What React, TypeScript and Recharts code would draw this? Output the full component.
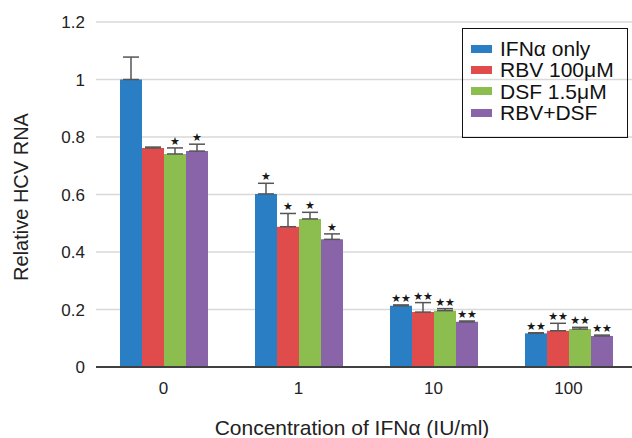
import { BarChart, Bar, XAxis, YAxis, CartesianGrid, ErrorBar, LabelList, Label } from 'recharts';

const categories = ['0', '1', '10', '100'];

const ifnOnly = [1.0, 0.602, 0.213, 0.117];
const rbv100 = [0.762, 0.488, 0.191, 0.126];
const dsf15 = [0.741, 0.515, 0.196, 0.132];
const rbvDsf = [0.751, 0.444, 0.157, 0.108];

const ifnOnlyErr = [0.078, 0.037, 0.003, 0.002];
const rbv100Err = [0.003, 0.046, 0.033, 0.026];
const dsf15Err = [0.021, 0.023, 0.007, 0.006];
const rbvDsfErr = [0.024, 0.019, 0.003, 0.003];

const ifnOnlyStars = ['', '*', '**', '**'];
const rbv100Stars = ['', '*', '**', '**'];
const dsf15Stars = ['*', '*', '**', '**'];
const rbvDsfStars = ['*', '*', '**', '**'];

const yTicks = [0, 0.2, 0.4, 0.6, 0.8, 1, 1.2];

const series = [
  { key: 'ifn', name: 'IFN\u03b1 only', color: '#2A7EC3', values: ifnOnly, err: ifnOnlyErr, stars: ifnOnlyStars },
  { key: 'rbv', name: 'RBV 100\u03bcM', color: '#E04C4C', values: rbv100, err: rbv100Err, stars: rbv100Stars },
  { key: 'dsf', name: 'DSF 1.5\u03bcM', color: '#8BBE4F', values: dsf15, err: dsf15Err, stars: dsf15Stars },
  { key: 'combo', name: 'RBV+DSF', color: '#8A64A8', values: rbvDsf, err: rbvDsfErr, stars: rbvDsfStars },
];

const rows = categories.map((cat, i) => {
  const row: any = { cat };
  series.forEach(s => {
    row[s.key] = s.values[i];
    row[s.key + 'Err'] = [0, s.err[i]];
    row[s.key + 'Stars'] = s.stars[i];
  });
  return row;
});

const FONT = '"Liberation Sans", Arial, sans-serif';

// stars sit just above the top of each error bar
function starLabel(s: (typeof series)[number]) {
  return (props: any) => {
    const { x, y, width, height, value, index } = props;
    if (!value) return null;
    const v = s.values[index];
    const top = y + height - ((v + s.err[index]) / v) * height;
    return (
      <text
        x={x + width / 2}
        y={top - 3}
        textAnchor="middle"
        fontSize={11}
        fontFamily="DejaVu Sans"
        fill="#1a1a1a"
      >
        {value.replace(/\*/g, '\u2605')}
      </text>
    );
  };
}

export default function App() {
  return (
    <div style={{ position: 'absolute', left: 0, top: 0, width: 632, height: 438, overflow: 'hidden', background: '#fff' }}>
      <BarChart
        width={636}
        height={438}
        data={rows}
        margin={{ top: 22, right: 0, bottom: 0, left: 0 }}
        barCategoryGap={24}
        barGap={0}
        style={{ fontFamily: FONT }}
      >
        <CartesianGrid vertical={false} stroke="#d9d9d9" strokeWidth={1.5} />
        <XAxis
          dataKey="cat"
          height={71}
          tickLine={false}
          tickSize={0}
          tickMargin={15}
          axisLine={{ stroke: '#404040', strokeWidth: 2 }}
          tick={{ fill: '#222', fontSize: 17 }}
        >
          <Label
            content={() => (
              <text x={352} y={435} textAnchor="middle" fontSize={21} fill="#222" fontFamily={FONT}>
                Concentration of IFN{'\u03b1'} (IU/ml)
              </text>
            )}
          />
        </XAxis>
        <YAxis
          width={96}
          domain={[0, 1.2]}
          ticks={yTicks}
          axisLine={false}
          tickLine={false}
          tickSize={0}
          tickMargin={11}
          tick={{ fill: '#222', fontSize: 17 }}
        >
          <Label
            content={() => (
              <text
                x={21}
                y={197}
                textAnchor="middle"
                dominantBaseline="central"
                fontSize={20}
                fill="#222"
                fontFamily={FONT}
                transform="rotate(-90 21 197)"
              >
                Relative HCV RNA
              </text>
            )}
          />
        </YAxis>
        {series.map(s => (
          <Bar key={s.key} dataKey={s.key} name={s.name} fill={s.color} isAnimationActive={false}>
            <ErrorBar dataKey={s.key + 'Err'} width={8} stroke="#555" strokeWidth={1.5} direction="y" />
            <LabelList dataKey={s.key + 'Stars'} content={starLabel(s)} />
          </Bar>
        ))}
      </BarChart>
      <div
        style={{
          position: 'absolute',
          left: 462,
          top: 28,
          width: 164,
          height: 99,
          border: '1.5px solid #111',
          fontFamily: FONT,
          fontSize: 21,
          color: '#111',
          boxSizing: 'content-box',
          paddingTop: 9,
        }}
      >
        {series.map(s => (
          <div key={s.key} style={{ display: 'flex', alignItems: 'center', height: 21.3, lineHeight: '21px' }}>
            <span style={{ display: 'inline-block', width: 21, height: 8, background: s.color, marginLeft: 8, marginRight: 8 }} />
            <span>{s.name}</span>
          </div>
        ))}
      </div>
    </div>
  );
}
